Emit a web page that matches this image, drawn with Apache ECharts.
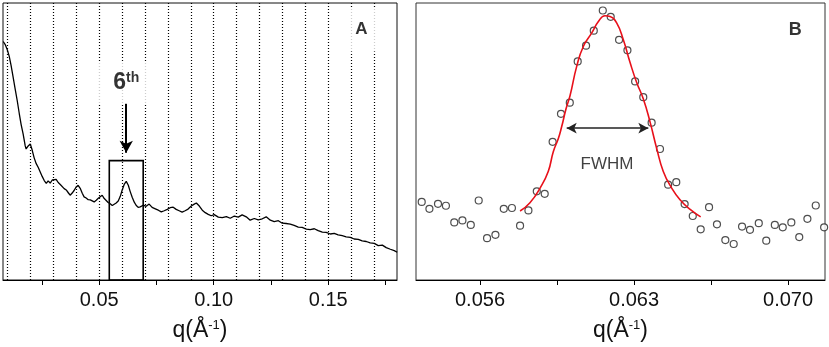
<!DOCTYPE html>
<html>
<head>
<meta charset="utf-8">
<script src="https://cdn.jsdelivr.net/npm/echarts@6/dist/echarts.min.js"></script>
<style>
  html, body { margin: 0; padding: 0; background: #fff; }
  #chatMain { width: 829px; height: 347px; }
</style>
</head>
<body>
<div id="chatMain"></div>
<script>
// panel A: scattering profile
const qA = [0.0081, 0.0089, 0.0098, 0.0107, 0.0115, 0.0124, 0.0133, 0.0142, 0.0151, 0.0159,
  0.0168, 0.0177, 0.0181, 0.0190, 0.0199, 0.0207, 0.0216, 0.0225, 0.0234, 0.0242,
  0.0251, 0.0260, 0.0269, 0.0277, 0.0286, 0.0295, 0.0303, 0.0312, 0.0321, 0.0330,
  0.0338, 0.0347, 0.0356, 0.0365, 0.0373, 0.0382, 0.0391, 0.0399, 0.0408, 0.0417,
  0.0426, 0.0434, 0.0443, 0.0452, 0.0461, 0.0469, 0.0478, 0.0487, 0.0496, 0.0504,
  0.0513, 0.0522, 0.0530, 0.0539, 0.0548, 0.0557, 0.0565, 0.0574, 0.0583, 0.0592,
  0.0600, 0.0609, 0.0618, 0.0627, 0.0635, 0.0644, 0.0653, 0.0661, 0.0670, 0.0679,
  0.0692, 0.0705, 0.0718, 0.0731, 0.0745, 0.0758, 0.0771, 0.0784, 0.0797, 0.0810,
  0.0823, 0.0836, 0.0849, 0.0862, 0.0875, 0.0888, 0.0902, 0.0915, 0.0924, 0.0937,
  0.0950, 0.0963, 0.0976, 0.0989, 0.1002, 0.1020, 0.1037, 0.1055, 0.1072, 0.1090,
  0.1107, 0.1124, 0.1142, 0.1159, 0.1177, 0.1194, 0.1212, 0.1229, 0.1247, 0.1264,
  0.1282, 0.1299, 0.1316, 0.1334, 0.1351, 0.1369, 0.1386, 0.1404, 0.1421, 0.1439,
  0.1456, 0.1474, 0.1491, 0.1509, 0.1526, 0.1543, 0.1561, 0.1578, 0.1596, 0.1613,
  0.1631, 0.1648, 0.1666, 0.1683, 0.1701, 0.1718, 0.1736, 0.1753, 0.1771, 0.1788, 0.1801];
const intensityA = [86.1, 85.1, 83.3, 80.8, 77.6, 73.3, 69.0, 64.8, 60.1, 56.2,
  52.7, 48.4, 47.3, 48.4, 49.1, 47.0, 44.1, 42.0, 40.6, 39.1,
  37.4, 35.9, 34.9, 35.8, 35.0, 36.1, 35.4, 36.3, 35.2, 34.5,
  33.9, 33.0, 32.5, 31.5, 30.6, 31.4, 32.4, 33.5, 34.2, 33.1,
  31.3, 30.0, 29.6, 29.0, 28.9, 28.4, 28.2, 28.8, 29.5, 30.2,
  30.6, 29.4, 28.9, 28.0, 27.5, 26.9, 27.1, 27.8, 28.5, 30.2,
  32.4, 34.5, 35.6, 34.2, 32.0, 29.9, 28.1, 27.0, 26.2, 26.4,
  27.0, 26.6, 27.4, 26.2, 25.7, 25.2, 24.6, 25.0, 25.5, 26.1,
  26.3, 25.5, 25.0, 24.5, 25.0, 25.6, 26.7, 27.4, 27.8, 26.7,
  25.2, 24.3, 23.7, 23.2, 23.6, 22.7, 22.5, 22.9, 22.3, 23.1,
  22.7, 23.5, 22.8, 21.6, 22.2, 21.7, 22.1, 22.8, 21.6, 21.1,
  21.4, 20.5, 20.4, 20.2, 19.7, 19.1, 19.0, 18.4, 18.2, 18.5,
  17.8, 17.3, 17.2, 16.6, 16.8, 16.3, 16.0, 15.6, 15.4, 14.8,
  14.7, 14.1, 13.9, 13.4, 13.2, 12.4, 12.6, 11.7, 11.1, 10.6, 10.0];
// dotted reflection positions (n = 1..17)
const orderLines = [0.0107, 0.0212, 0.0312, 0.0417, 0.0517, 0.0618, 0.0723, 0.0827, 0.0928,
  0.1028, 0.1133, 0.1234, 0.1338, 0.1439, 0.1539, 0.1644, 0.1749];
const ticksA = [0.025, 0.05, 0.075, 0.10, 0.125, 0.15, 0.175];
const labelsA = [0.05, 0.10, 0.15];

// panel B: zoom on the 6th order peak
const qB = [0.05335, 0.05370, 0.05409, 0.05445, 0.05483, 0.05520, 0.05558, 0.05594, 0.05632, 0.05670,
  0.05708, 0.05745, 0.05782, 0.05820, 0.05858, 0.05894, 0.05930, 0.05968, 0.06008, 0.06044,
  0.06082, 0.06117, 0.06158, 0.06194, 0.06232, 0.06270, 0.06305, 0.06342, 0.06380, 0.06418,
  0.06455, 0.06492, 0.06530, 0.06567, 0.06603, 0.06641, 0.06677, 0.06715, 0.06753, 0.06791,
  0.06827, 0.06867, 0.06901, 0.06940, 0.06976, 0.07015, 0.07051, 0.07088, 0.07126, 0.07164];
const intensityB = [28.2, 25.7, 27.5, 26.8, 20.8, 21.5, 19.9, 28.7, 15.1, 16.3,
  25.7, 26.0, 19.6, 25.1, 32.0, 31.1, 49.9, 60.0, 64.0, 78.9,
  84.6, 90.0, 97.3, 95.0, 86.7, 82.9, 71.7, 66.0, 56.8, 47.3,
  34.4, 35.3, 27.4, 23.1, 18.3, 26.3, 20.1, 14.4, 13.0, 19.3,
  18.1, 20.5, 14.2, 19.9, 19.0, 20.8, 15.5, 22.1, 26.9, 19.0];
const qFit = [0.05782, 0.05827, 0.05873, 0.05910, 0.05933, 0.05956, 0.05971, 0.05991, 0.06009,
  0.06040, 0.06070, 0.06108, 0.06138, 0.06168, 0.06191, 0.06221, 0.06251, 0.06282, 0.06312,
  0.06342, 0.06373, 0.06403, 0.06433, 0.06471, 0.06509, 0.06555, 0.06603];
const intensityFit = [24.9, 27.9, 33.2, 39.2, 46.3, 51.1, 55.3, 61.8, 66.5,
  77.3, 84.4, 89.2, 93.3, 95.4, 95.1, 92.8, 86.8, 78.5, 71.3,
  65.4, 57.0, 47.5, 39.2, 33.2, 29.0, 25.5, 22.8];
const fwhmEnds = [0.05994, 0.06365];
const ticksB = [0.056, 0.0595, 0.063, 0.0665, 0.070];
const labelsB = [0.056, 0.063, 0.070];

const font = 'Liberation Sans, Arial, sans-serif';

function zip(xs, ys) {
  return xs.map((x, i) => [x, ys[i]]);
}

function xAxisOf(grid, min, max, ticks, labels, digits) {
  return {
    type: 'value',
    gridIndex: grid,
    min: min,
    max: max,
    splitLine: { show: false },
    axisLine: { show: true, lineStyle: { color: '#000', width: 1 } },
    axisTick: { show: true, customValues: ticks, length: 5, lineStyle: { color: '#000' } },
    axisLabel: {
      customValues: labels,
      formatter: v => v.toFixed(digits),
      fontSize: 20,
      fontFamily: font,
      color: '#111',
      margin: 10
    },
    name: 'q(Å{s|-1})',
    nameLocation: 'middle',
    nameGap: 39,
    nameTextStyle: {
      fontSize: 23,
      fontFamily: font,
      color: '#111',
      rich: {
        s: { fontSize: 13, fontFamily: font, color: '#111', verticalAlign: 'top' }
      }
    }
  };
}

const myechart = echarts.init(document.getElementById('chatMain'));
var option = {
  animation: false,
  backgroundColor: '#fff',
  grid: [
    { left: 3, right: 432, top: 3, bottom: 63, show: true, borderColor: '#111', borderWidth: 1 },
    { left: 416, right: 4, top: 3, bottom: 64, show: true, borderColor: '#333', borderWidth: 1 }
  ],
  xAxis: [
    xAxisOf(0, 0.008, 0.180, ticksA, labelsA, 2),
    xAxisOf(1, 0.05309, 0.07168, ticksB, labelsB, 3)
  ],
  yAxis: [
    { type: 'value', gridIndex: 0, min: 0, max: 100, show: false },
    { type: 'value', gridIndex: 1, min: 0, max: 100, show: false }
  ],
  series: [
    {
      // profile with dotted order lines and the box round the 6th peak
      type: 'line',
      xAxisIndex: 0,
      yAxisIndex: 0,
      data: zip(qA, intensityA),
      showSymbol: false,
      symbol: 'none',
      lineStyle: { color: '#000', width: 1.3 },
      z: 3,
      markLine: {
        silent: true,
        symbol: 'none',
        label: { show: false },
        lineStyle: { color: '#000', width: 1.2, type: [1, 2] },
        data: orderLines.map(q => ({ xAxis: q }))
      },
      markArea: {
        silent: true,
        itemStyle: { color: 'rgba(0,0,0,0)', borderColor: '#000', borderWidth: 1.6 },
        data: [[{ coord: [0.0544, 43.1] }, { coord: [0.0692, 0] }]]
      }
    },
    {
      // labels of panel A, white boxes hide the dotted lines
      type: 'scatter',
      xAxisIndex: 0,
      yAxisIndex: 0,
      symbol: 'rect',
      itemStyle: { color: '#fff' },
      z: 10,
      data: [
        {
          value: [0.0618, 71.2],
          symbolSize: [56, 42],
          label: {
            show: true,
            position: 'inside',
            formatter: '{a|6}{b|th}',
            rich: {
              a: { fontSize: 23, fontWeight: 'bold', fontFamily: font, color: '#000', lineHeight: 24 },
              b: { fontSize: 14, fontWeight: 'bold', fontFamily: font, color: '#000', verticalAlign: 'top', lineHeight: 24 }
            }
          }
        },
        {
          value: [0.1644, 90.4],
          symbolSize: [56, 44],
          label: { show: true, position: 'inside', formatter: 'A', fontSize: 17, fontWeight: 'bold', fontFamily: font, color: '#000' }
        }
      ],
      markLine: {
        silent: true,
        symbol: ['none', 'arrow'],
        symbolSize: [10, 12],
        label: { show: false },
        lineStyle: { color: '#000', width: 2, type: 'solid' },
        data: [[{ coord: [0.0618, 63.7] }, { coord: [0.0618, 45.9] }]]
      }
    },
    {
      type: 'scatter',
      xAxisIndex: 1,
      yAxisIndex: 1,
      data: zip(qB, intensityB),
      symbol: 'circle',
      symbolSize: 7,
      itemStyle: { color: '#fff', borderColor: '#222', borderWidth: 1.2 },
      z: 3
    },
    {
      type: 'line',
      xAxisIndex: 1,
      yAxisIndex: 1,
      data: zip(qFit, intensityFit),
      smooth: true,
      symbol: 'none',
      lineStyle: { color: '#e8101a', width: 1.6 },
      z: 4
    },
    {
      // labels of panel B
      type: 'scatter',
      xAxisIndex: 1,
      yAxisIndex: 1,
      symbol: 'rect',
      itemStyle: { color: 'rgba(255,255,255,0)' },
      z: 10,
      data: [
        {
          value: [0.06177, 41.8],
          symbolSize: [60, 20],
          label: { show: true, position: 'inside', formatter: 'FWHM', fontSize: 17, fontFamily: font, color: '#111' }
        },
        {
          value: [0.07033, 90.4],
          symbolSize: [20, 20],
          label: { show: true, position: 'inside', formatter: 'B', fontSize: 18, fontWeight: 'bold', fontFamily: font, color: '#000' }
        }
      ],
      markLine: {
        silent: true,
        symbol: ['arrow', 'arrow'],
        symbolSize: [8, 10],
        label: { show: false },
        lineStyle: { color: '#222', width: 1.5, type: 'solid' },
        data: [[{ coord: [fwhmEnds[0], 54.8] }, { coord: [fwhmEnds[1], 54.8] }]]
      }
    }
  ]
};
myechart.setOption(option);
</script>
</body>
</html>
